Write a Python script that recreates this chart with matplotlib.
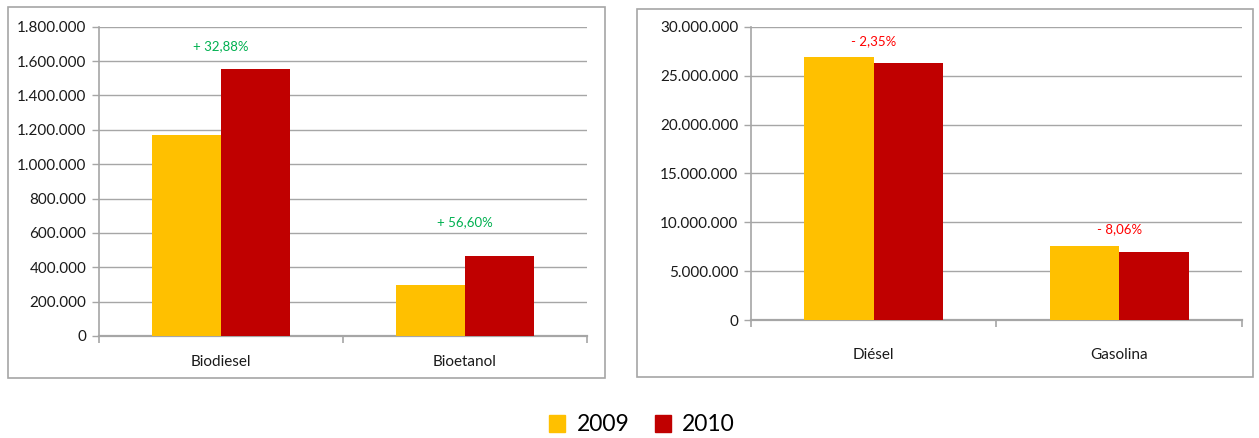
import numpy as np
import matplotlib.pyplot as plt
from matplotlib.patches import Rectangle, Patch
from matplotlib.ticker import FuncFormatter

plt.rcParams['font.family'] = ['Lato', 'DejaVu Sans']

# biocarburantes
bio_cats = ['Biodiesel', 'Bioetanol']
bio_2009 = [1172000, 298000]
bio_2010 = [1557000, 466700]
bio_change = ['+ 32,88%', '+ 56,60%']
bio_label_y = [1690000, 660000]

# carburantes fosiles
fos_cats = ['Diésel', 'Gasolina']
fos_2009 = [26930000, 7600000]
fos_2010 = [26297000, 6987000]
fos_change = ['- 2,35%', '- 8,06%']
fos_label_y = [28500000, 9300000]

years = ['2009', '2010']
YELLOW = '#FFC000'
RED = '#C00000'
GRID = '#A6A6A6'


def miles(v, pos):
    return '{:,.0f}'.format(v).replace(',', '.')


def draw_panel(ax, cats, v09, v10, ymax, step, changes, label_y, color, labpad):
    x = np.arange(len(cats))
    w = 0.283
    ax.bar(x - w / 2, v09, w, color=YELLOW, zorder=3)
    ax.bar(x + w / 2, v10, w, color=RED, zorder=3)
    ax.set_xlim(-0.5, len(cats) - 0.5)
    ax.set_ylim(0, ymax)
    ax.set_yticks(np.arange(0, ymax + 1, step))
    ax.yaxis.set_major_formatter(FuncFormatter(miles))
    ax.yaxis.grid(True, color=GRID, lw=1)
    ax.set_axisbelow(True)
    ax.set_xticks(x)
    ax.set_xticklabels(cats, fontsize=11, color='#1a1a1a')
    ax.set_xticks(np.arange(-0.5, len(cats)), minor=True)
    ax.tick_params(axis='x', which='major', length=0, pad=labpad)
    ax.tick_params(axis='x', which='minor', length=5, color=GRID, width=1.2)
    ax.tick_params(axis='y', length=5, color=GRID, width=1, labelsize=11,
                   labelcolor='#1a1a1a', pad=4)
    for s in ['top', 'right']:
        ax.spines[s].set_visible(False)
    for s in ['left', 'bottom']:
        ax.spines[s].set_color(GRID)
    ax.spines['left'].set_linewidth(1.2)
    ax.spines['bottom'].set_linewidth(1.6)
    for xi, txt, yl in zip(x, changes, label_y):
        ax.text(xi, yl, txt, color=color, fontsize=9.5, ha='center', va='center')


fig = plt.figure(figsize=(12.59, 4.38), dpi=100)

# marcos de cada grafico
fig.patches.append(Rectangle((0.0064, 0.137), 0.474, 0.847, transform=fig.transFigure,
                             fill=False, edgecolor=GRID, lw=1.2))
fig.patches.append(Rectangle((0.506, 0.139), 0.489, 0.840, transform=fig.transFigure,
                             fill=False, edgecolor=GRID, lw=1.2))

ax1 = fig.add_axes([0.0786, 0.2329, 0.3876, 0.706])
draw_panel(ax1, bio_cats, bio_2009, bio_2010, 1800000, 200000,
           bio_change, bio_label_y, '#00B050', 14)

ax2 = fig.add_axes([0.5965, 0.2694, 0.39, 0.669])
draw_panel(ax2, fos_cats, fos_2009, fos_2010, 30000000, 5000000,
           fos_change, fos_label_y, '#FF0000', 20)

handles = [Patch(color=YELLOW), Patch(color=RED)]
fig.legend(handles, years, loc='center', bbox_to_anchor=(0.51, 0.03), ncol=2,
           frameon=False, fontsize=16.5, handlelength=0.7, handleheight=0.8,
           handletextpad=0.5, columnspacing=1.1)

fig.savefig('out.png', dpi=100)
